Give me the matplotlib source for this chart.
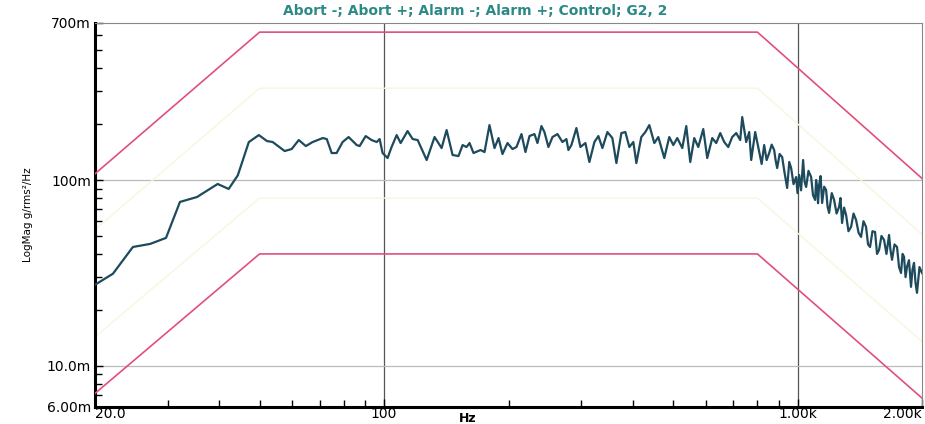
import matplotlib
matplotlib.use("Agg")
import matplotlib.pyplot as plt
from matplotlib.ticker import FixedLocator, LogLocator, NullFormatter

# ---- data ----
prof_freq = [20, 50, 800, 2000]
abort_hi = [0.108, 0.625, 0.625, 0.102]
abort_lo = [0.0071, 0.040, 0.040, 0.0067]
alarm_hi = [0.054, 0.312, 0.312, 0.051]
alarm_lo = [0.0143, 0.080, 0.080, 0.0135]

ctrl_freq = [20.0, 22.1, 24.7, 27.2, 29.7, 32.1, 35.3, 39.6, 42.1, 44.3, 47.1, 49.8,
             52.1, 53.8, 57.5, 59.8, 62.2, 64.7, 67.2, 71.1, 72.7, 74.7, 76.8, 79.4,
             82.1, 85.9, 87.3, 90.3, 93.3, 96.0, 97.6, 99.2, 102.0, 104.3, 107.3, 109.7,
             114.0, 117.3, 120.6, 126.8, 132.5, 137.8, 141.7, 146.5, 151.4, 154.9, 158.3,
             161.0, 164.6, 171.2, 175.0, 179.9, 185.0, 189.2, 193.4, 198.9, 204.5, 209.1,
             215.0, 219.8, 224.8, 231.1, 235.0, 240.3, 244.3, 249.8, 255.5, 262.7, 270.1,
             276.1, 279.2, 283.9, 291.9, 298.5, 306.9, 313.8, 322.7, 329.9, 337.4, 346.9,
             356.6, 364.7, 375.0, 383.4, 392.0, 400.8, 407.6, 419.0, 428.5, 438.1, 450.5,
             460.6, 476.2, 489.6, 500.7, 511.9, 526.4, 538.2, 550.3, 562.7, 575.4, 591.6,
             604.9, 622.0, 635.9, 650.3, 664.9, 679.9, 695.1, 710.8, 726.8, 734.9, 751.4,
             764.1, 772.6, 790.0, 807.8, 819.0, 830.5, 842.0, 854.0, 866.0, 878.0, 885.0,
             892.8, 905.0, 918.0, 930.0, 943.9, 955.0, 965.1, 978.0, 992.4, 1000.0,
             1009.1, 1020.0, 1031.7, 1040.0, 1049.1, 1063.0, 1078.7, 1090.0, 1103.0,
             1109.0, 1115.3, 1121.0, 1127.8, 1137.0, 1146.8, 1160.0, 1172.5, 1182.0,
             1192.2, 1210.0, 1225.9, 1243.0, 1260.4, 1270.0, 1281.6, 1296.0, 1310.5,
             1328.0, 1347.5, 1366.0, 1385.5, 1405.0, 1424.5, 1444.0, 1464.7, 1481.0,
             1497.7, 1518.0, 1540.0, 1557.0, 1574.5, 1596.0, 1618.9, 1641.0, 1664.7,
             1678.0, 1692.6, 1716.0, 1740.3, 1760.0, 1779.6, 1795.0, 1809.5, 1825.0,
             1839.8, 1860.0, 1881.3, 1897.0, 1913.0, 1929.0, 1945.0, 1972.0, 2000.0]
ctrl_psd = [0.0273, 0.0313, 0.0436, 0.0453, 0.0488, 0.0762, 0.0810, 0.0952, 0.0895,
            0.1060, 0.1600, 0.1745, 0.1621, 0.1601, 0.1432, 0.1468, 0.1641, 0.1523,
            0.1601, 0.1682, 0.1661, 0.1397, 0.1397, 0.1601, 0.1703, 0.1542, 0.1523,
            0.1724, 0.1641, 0.1601, 0.1661, 0.1397, 0.1313, 0.1505, 0.1745, 0.1581,
            0.1834, 0.1661, 0.1641, 0.1281, 0.1703, 0.1486, 0.1857, 0.1363, 0.1346,
            0.1542, 0.1505, 0.1581, 0.1397, 0.1450, 0.1414, 0.1975, 0.1486, 0.1682,
            0.1380, 0.1581, 0.1468, 0.1505, 0.1767, 0.1414, 0.1724, 0.1767, 0.1581,
            0.1951, 0.1812, 0.1505, 0.1703, 0.1767, 0.1601, 0.1661, 0.1450, 0.1542,
            0.1904, 0.1505, 0.1581, 0.1250, 0.1601, 0.1724, 0.1486, 0.1812, 0.1682,
            0.1234, 0.1789, 0.1812, 0.1505, 0.1601, 0.1234, 0.1703, 0.1812, 0.1975,
            0.1581, 0.1703, 0.1313, 0.1703, 0.1542, 0.1682, 0.1486, 0.1951, 0.1250,
            0.1682, 0.1505, 0.1880, 0.1313, 0.1682, 0.1581, 0.1789, 0.1601, 0.1505,
            0.1703, 0.1789, 0.1641, 0.2181, 0.1601, 0.1812, 0.1281, 0.1812, 0.1414,
            0.1220, 0.1542, 0.1280, 0.1397, 0.1550, 0.1450, 0.1280,
            0.1160, 0.1380, 0.1329, 0.1100, 0.0906, 0.1250, 0.1160, 0.0950, 0.1038, 0.0850,
            0.1064, 0.0880, 0.1281, 0.0980, 0.0917, 0.1120, 0.1038, 0.0830, 0.0781,
            0.1000, 0.0917, 0.0750, 0.0940, 0.1050, 0.0752, 0.0920, 0.0884, 0.0720,
            0.0665, 0.0850, 0.0781, 0.0660, 0.0716, 0.0800, 0.0587, 0.0710, 0.0648,
            0.0530, 0.0559, 0.0660, 0.0609, 0.0520, 0.0494, 0.0600, 0.0559, 0.0450,
            0.0436, 0.0530, 0.0525, 0.0400, 0.0420, 0.0500, 0.0476, 0.0400, 0.0506,
            0.0420, 0.0372, 0.0450, 0.0436, 0.0340, 0.0316, 0.0400, 0.0386, 0.0300,
            0.0341, 0.0370, 0.0266, 0.0330, 0.0358, 0.0280, 0.0247, 0.0340, 0.0316]

x_ticks = [20, 100, 1000, 2000]
x_labels = ["20.0", "100", "1.00k", "2.00k"]
y_ticks = [0.006, 0.01, 0.1, 0.7]
y_labels = ["6.00m", "10.0m", "100m", "700m"]

title = "Abort -; Abort +; Alarm -; Alarm +; Control; G2, 2"

# ---- figure ----
plt.rcParams['font.family'] = ['DejaVu Sans']
fig = plt.figure(figsize=(9.25, 4.24), dpi=100)
ax = fig.add_axes([95 / 925, 1 - 407 / 424, 827 / 925, 384 / 424])
ax.set_xscale('log')
ax.set_yscale('log')
ax.set_xlim(20, 2000)
ax.set_ylim(0.006, 0.7)

# grid lines
for xv in [100, 1000]:
    ax.axvline(xv, color='#555555', lw=0.9, zorder=1)
for yv in [0.01, 0.1]:
    ax.axhline(yv, color='#bbbbbb', lw=0.9, zorder=1)

ax.plot(prof_freq, alarm_hi, color='#f8f6df', lw=1.0, zorder=2)
ax.plot(prof_freq, alarm_lo, color='#f8f6df', lw=1.0, zorder=2)
ax.plot(prof_freq, abort_hi, color='#e0507a', lw=1.2, zorder=3)
ax.plot(prof_freq, abort_lo, color='#e0507a', lw=1.2, zorder=3)
ax.plot(ctrl_freq, ctrl_psd, color='#1d4a5c', lw=1.6, zorder=4)

# ticks
ax.xaxis.set_major_locator(FixedLocator(x_ticks))
ax.set_xticklabels(x_labels)
ax.xaxis.set_minor_locator(LogLocator(base=10, subs=range(2, 10), numticks=20))
ax.xaxis.set_minor_formatter(NullFormatter())
ax.yaxis.set_major_locator(FixedLocator(y_ticks))
ax.set_yticklabels(y_labels)
ax.yaxis.set_minor_locator(LogLocator(base=10, subs=range(2, 10), numticks=20))
ax.yaxis.set_minor_formatter(NullFormatter())
ax.tick_params(axis='both', which='both', direction='in', labelsize=10, colors='black')
ax.tick_params(axis='both', which='major', length=6, width=1)
ax.tick_params(axis='both', which='minor', length=5, width=1)
ax.tick_params(axis='x', which='major', pad=0)
ax.tick_params(axis='y', which='major', pad=3)
xl = ax.get_xticklabels()
xl[0].set_ha('left')
xl[-1].set_ha('right')

for s in ['left', 'bottom']:
    ax.spines[s].set_linewidth(2.2)
    ax.spines[s].set_color('black')
for s in ['top', 'right']:
    ax.spines[s].set_linewidth(0.8)
    ax.spines[s].set_color('#888888')

fig.text(475 / 925, 1 - 11 / 424, title, ha='center', va='center',
         color='#2b8a86', fontsize=10, fontweight='bold')
fig.text(468 / 925, 1 - 419 / 424, 'Hz', ha='center', va='center',
         fontsize=9, fontweight='bold')
fig.text(28 / 925, 1 - 215 / 424, 'LogMag g/rms²/Hz', ha='center', va='center',
         rotation=90, fontsize=7.5)

fig.savefig('out.png', dpi=100)
